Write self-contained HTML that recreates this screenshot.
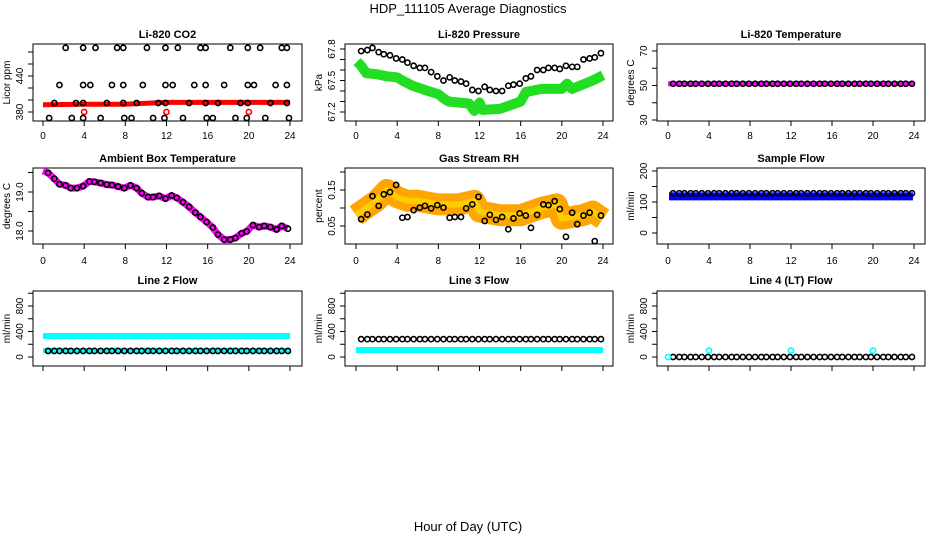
<!DOCTYPE html>
<html><head><meta charset="utf-8"><title>HDP_111105 Average Diagnostics</title>
<style>
html,body{margin:0;padding:0;background:#fff;}
svg{display:block;font-family:"Liberation Sans",Arial,sans-serif;}
</style></head>
<body>
<svg id="chart" width="936" height="540" viewBox="0 0 936 540" xmlns="http://www.w3.org/2000/svg">
<text x="468" y="13" text-anchor="middle" font-size="13">HDP_111105  Average Diagnostics</text>
<text x="468" y="531" text-anchor="middle" font-size="13">Hour of Day (UTC)</text>
</svg>
<script>
// ---- data ----
const hours = [0.5,1.1,1.6,2.2,2.7,3.3,3.9,4.5,5.0,5.6,6.2,6.7,7.3,7.9,8.5,9.1,9.6,10.2,10.7,11.3,11.9,12.5,13.0,13.6,14.2,14.8,15.3,15.9,16.5,17.0,17.6,18.2,18.7,19.3,19.8,20.4,21.0,21.5,22.1,22.7,23.2,23.8];
const xTicks = [0,4,8,12,16,20,24];

const co2TopHours = [2.2,3.9,5.1,7.2,7.8,10.1,11.9,13.1,15.3,15.8,18.2,19.9,21.1,23.2,23.7];
const co2MidHours = [1.6,3.9,4.6,6.7,7.8,9.7,11.9,12.6,14.7,15.8,17.6,19.9,20.5,22.6,23.7];
const co2BandHours = [1.1,3.2,3.9,6.2,7.8,9.1,11.2,11.9,14.2,15.8,17.0,19.2,19.9,22.1,23.7];
const co2LowHours = [0.6,2.8,3.9,5.6,7.9,8.6,10.7,11.8,13.6,15.9,16.5,18.7,19.8,21.6,23.9];
const co2Levels = [487,425,395,370];
const co2RedHours = [0,4,8,12,16,20,24];
const co2RedValues = [392,393,393,396,396,396,396];
const co2OutHours = [4,12,20];
const co2OutValues = [380,380,380];

const pressBlack = [67.78,67.79,67.81,67.77,67.75,67.74,67.71,67.70,67.67,67.64,67.62,67.62,67.58,67.54,67.50,67.53,67.50,67.49,67.47,67.41,67.40,67.44,67.41,67.40,67.40,67.45,67.46,67.47,67.52,67.54,67.60,67.60,67.62,67.62,67.61,67.64,67.63,67.63,67.70,67.71,67.72,67.76];
const pressGreenHours = [0.1,0.5,1,2,3,4,4.5,5.5,7,8,8.5,9,11,11.5,12,12.3,14,16,16.5,18,20,20.5,21,23,24];
const pressGreenValues = [67.68,67.64,67.57,67.56,67.54,67.53,67.50,67.45,67.40,67.37,67.33,67.30,67.28,67.21,67.29,67.22,67.23,67.30,67.39,67.42,67.42,67.47,67.42,67.50,67.55];

const tempBlack = 51;
const tempBand = 51;

const ambBlack = [19.49,19.34,19.2,19.17,19.1,19.1,19.15,19.27,19.26,19.23,19.19,19.18,19.14,19.1,19.17,19.1,18.97,18.87,18.87,18.9,18.83,18.91,18.85,18.74,18.62,18.47,18.36,18.23,18.09,17.91,17.78,17.78,17.82,17.94,17.99,18.15,18.1,18.13,18.1,18.04,18.13,18.06];

const rhBlack = [0.069,0.082,0.133,0.106,0.138,0.144,0.164,0.073,0.075,0.094,0.101,0.106,0.099,0.108,0.101,0.073,0.075,0.075,0.099,0.110,0.131,0.064,0.081,0.067,0.075,0.041,0.071,0.085,0.079,0.045,0.081,0.110,0.108,0.119,0.097,0.020,0.087,0.055,0.079,0.087,0.008,0.079];
const rhBandHours = [0,1,2,3,4,5,6,8,10,11.5,12,14,16,18,19.5,20,22,23,24];
const rhBandValues = [0.08,0.10,0.12,0.15,0.13,0.12,0.12,0.11,0.11,0.12,0.09,0.08,0.08,0.10,0.11,0.07,0.08,0.09,0.07];

const sampleBlack = 128;
const sampleBand = 118;
const line2Black = 95, line2Band = 330, line2Low = 100;
const line3Black = 280, line3Band = 110;
const line4Black = 0;
const line4OutHours = [4,12,20];
const line4OutValues = [100,100,100];

// ---- layout ----
const svg = document.getElementById('chart');
const NS = 'http://www.w3.org/2000/svg';
const cols = [{l:33,r:302,x0:43,x24:290},{l:345,r:613,x0:356,x24:603},{l:657,r:925,x0:668,x24:914}];
const rows = [{t:44,b:121,title:34,lab:135},{t:168,b:244,title:158,lab:260},{t:291,b:366,title:280,lab:null}];

function mk(tag, attrs, parent){
  const e = document.createElementNS(NS, tag);
  for (const k in attrs) e.setAttribute(k, attrs[k]);
  (parent||svg).appendChild(e);
  return e;
}

function panel(ci, ri, name, title, ylab, v1, p1, v2, p2, ticks, labels){
  const c = cols[ci], r = rows[ri];
  const g = mk('g', {});
  
  
  const xs = h => c.x0 + h*(c.x24-c.x0)/24;
  const ys = v => p1 + (v-v1)*(p2-p1)/(v2-v1);
  const t = mk('text', {x:(c.l+c.r)/2, y:r.title+4, 'text-anchor':'middle','font-size':'11','font-weight':'bold'}, g);
  t.textContent = title;
  
  
  const box = mk('rect', {x:c.l, y:r.t, width:c.r-c.l, height:r.b-r.t, fill:'none', stroke:'#000', 'stroke-width':1}, g);
  
  
  const xa = mk('g', {}, g);
  
  
  xTicks.forEach(h => {
    mk('line', {x1:xs(h), x2:xs(h), y1:r.b, y2:r.b+5, stroke:'#000'}, xa);
    if (r.lab){
      const tl = mk('text', {x:xs(h), y:r.lab+4, 'text-anchor':'middle','font-size':'10'}, xa);
      tl.textContent = h;
    }
  });
  const ya = mk('g', {}, g);
  
  
  ticks.forEach(v => {
    mk('line', {x1:c.l-5, x2:c.l, y1:ys(v), y2:ys(v), stroke:'#000'}, ya);
  });
  mk('line', {x1:c.l, x2:c.l, y1:ys(ticks[0]), y2:ys(ticks[ticks.length-1]), stroke:'#000'}, ya);
  labels.forEach(s => {
    const y = ys(parseFloat(s));
    const tl = mk('text', {x:c.l-10, y:y, 'text-anchor':'middle','font-size':'10', transform:'rotate(-90 '+(c.l-10)+' '+y+')'}, ya);
    tl.textContent = s;
  });
  const yl = mk('text', {x:c.l-23, y:(r.t+r.b)/2, 'text-anchor':'middle','font-size':'10', transform:'rotate(-90 '+(c.l-23)+' '+((r.t+r.b)/2)+')'}, g);
  yl.textContent = ylab;
  
  
  return {g, xs, ys};
}

function band(p, name, hs, vs, color, w){
  const pts = hs.map((h,i)=>p.xs(h)+','+p.ys(vs[i])).join(' ');
  const e = mk('polyline', {points:pts, fill:'none', stroke:color, 'stroke-width':w, 'stroke-linejoin':'round','stroke-linecap':'butt'}, p.g);
  
  
}
function pts(p, name, hs, vs, color, r, sw){
  const g = mk('g', {}, p.g);
  
  
  hs.forEach((h,i)=>{
    mk('circle', {cx:p.xs(h), cy:p.ys(vs[i]), r:r||2.6, fill:'none', stroke:color, 'stroke-width':sw||1.6}, g);
  });
}
const rep = (v,n) => Array(n).fill(v);

let p = panel(0,0,'co2','Li-820 CO2','Licor ppm',380,112,440,76,[380,400,420,440,460,480],['380','440']);
band(p,'co2-red-band',co2RedHours,co2RedValues,'#ff0000',5);
pts(p,'co2-red-outliers',co2OutHours,co2OutValues,'#ff0000');
[co2TopHours,co2MidHours,co2BandHours,co2LowHours].forEach((hs,k)=>pts(p,'co2-black-points-'+k,hs,rep(co2Levels[k],hs.length),'#000'));

p = panel(1,0,'pressure','Li-820 Pressure','kPa',67.2,112,67.8,49,[67.2,67.3,67.4,67.5,67.6,67.7,67.8],['67.2','67.5','67.8']);
band(p,'pressure-green-band',pressGreenHours,pressGreenValues,'#22dd22',10);
pts(p,'pressure-black-points',hours,pressBlack,'#000');

p = panel(2,0,'li820-temp','Li-820 Temperature','degrees C',30,120,70,51,[30,40,50,60,70],['30','50','70']);
band(p,'li820-temp-magenta-band',[0,24],[tempBand,tempBand],'#ff00ff',5);
pts(p,'li820-temp-black-points',hours,rep(tempBlack,hours.length),'#000');

p = panel(0,1,'ambient-temp','Ambient Box Temperature','degrees C',18.0,231,19.0,192,[18.0,18.5,19.0,19.5],['18.0','19.0']);
band(p,'ambient-temp-magenta-line',[0].concat(hours),[19.54].concat(ambBlack),'#ff00ff',7);
pts(p,'ambient-temp-black-points',hours,ambBlack,'#000');

p = panel(1,1,'gas-rh','Gas Stream RH','percent',0.05,226,0.15,190,[0.05,0.10,0.15,0.20],['0.05','0.15']);
band(p,'gas-rh-orange-band',rhBandHours,rhBandValues,'#ffa500',22);
band(p,'gas-rh-yellow-band',rhBandHours,rhBandValues,'#ffcc00',6);
pts(p,'gas-rh-black-points',hours,rhBlack,'#000');

p = panel(2,1,'sample-flow','Sample Flow','ml/min',0,233,200,171,[0,50,100,150,200],['0','100','200']);
band(p,'sample-flow-blue-band',[0.1,23.9],[sampleBand,sampleBand],'#0000ff',8);
pts(p,'sample-flow-black-points',hours,rep(sampleBlack,hours.length),'#000');

const rt = [0,200,400,600,800,1000], rl = ['0','400','800'];
p = panel(0,2,'line2-flow','Line 2 Flow','ml/min',0,357,800,306,rt,rl);
band(p,'line2-cyan-band',[0,24],[line2Band,line2Band],'#00ffff',6);
band(p,'line2-cyan-low-band',[0,24],[line2Low,line2Low],'#00ffff',5);
pts(p,'line2-black-points',hours,rep(line2Black,hours.length),'#000');

p = panel(1,2,'line3-flow','Line 3 Flow','ml/min',0,357,800,306,rt,rl);
pts(p,'line3-black-points',hours,rep(line3Black,hours.length),'#000');
band(p,'line3-cyan-band',[0,24],[line3Band,line3Band],'#00ffff',6);

p = panel(2,2,'line4-flow','Line 4 (LT) Flow','ml/min',0,357,800,306,rt,rl);
pts(p,'line4-black-points',hours,rep(line4Black,hours.length),'#000');
pts(p,'line4-cyan-start',[0],[0],'#00ffff');
pts(p,'line4-cyan-outliers',line4OutHours,line4OutValues,'#00ffff');
</script>
</body></html>
